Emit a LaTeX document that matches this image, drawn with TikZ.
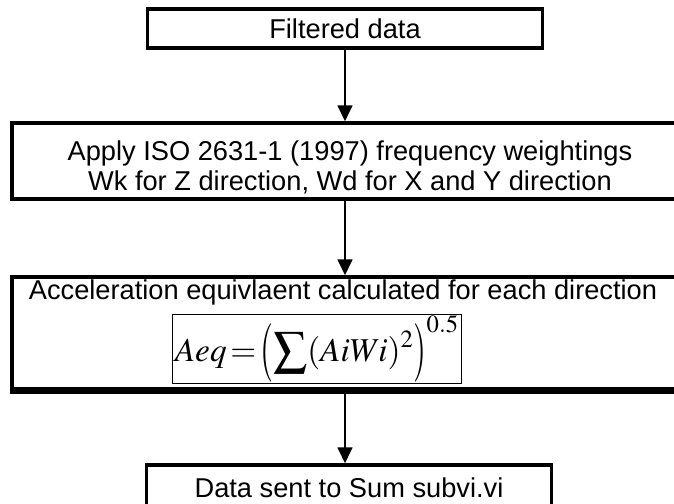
\documentclass[tikz,border=0pt]{standalone}
\usepackage{mathptmx}
\usepackage[no-math]{fontspec}
\setmainfont{Liberation Sans}
\usetikzlibrary{arrows.meta,positioning}

% stretched Times bracket for the Aeq formula
\newcommand{\tallparen}[1]{\vcenter{\hbox{\scalebox{1}[1.75]{$#1$}}}}

\begin{document}
\begin{tikzpicture}[
        x=0.02cm, y=-0.02cm,
        >={Triangle[width=0.3cm,length=0.32cm]},
        stepbox/.style={draw, line width=2pt, inner sep=0pt, align=center,
                        font=\fontsize{15.5}{17}\selectfont},
        steptext/.style={align=center, inner sep=0pt,
                        font=\fontsize{15.5}{17}\selectfont},
        formbox/.style={draw, line width=0.6pt, inner sep=1pt,
                        font=\fontsize{19}{21}\selectfont},
        flow/.style={->, line width=1pt}
    ]

    \useasboundingbox (0,0) rectangle (674,504);
    \clip (0,0) rectangle (674,504);

    % processing steps, top to bottom
    \node[stepbox, minimum width=7.9cm, minimum height=0.78cm] (filtered) at (345,28.5) {Filtered data};

    \node[stepbox, minimum width=13.4cm, minimum height=1.52cm] (weighting) at (347,161) {};
    \node[steptext] (weightingtext) at (350,167)
        {Apply ISO 2631-1 (1997) frequency weightings\\Wk for Z direction, Wd for X and Y direction};

    \node[stepbox, minimum width=13.4cm, minimum height=2.24cm] (accel) at (347,333) {};
    \draw[line width=3.5pt] (accel.south west) -- (accel.south east);
    \node[steptext] (acceltext) at (343,292)
        {Acceleration equivlaent calculated for each direction};
    \node[formbox, minimum width=5.8cm, minimum height=1.28cm] (formula) at (317,349)
        {$\displaystyle Aeq\,{=}\,\mathopen{\tallparen{(}}\sum(AiWi)^2\mathclose{\tallparen{)}}^{0.5}$};

    \node[stepbox, minimum width=8.1cm, minimum height=0.92cm] (sumvi) at (349,488) {Data sent to Sum subvi.vi};

    % connectors
    \draw[flow] (filtered.south) -- (filtered |- weighting.north);
    \draw[flow] (weighting.south -| filtered) -- (accel.north -| filtered);
    \draw[flow] (accel.south -| filtered) -- (sumvi.north -| filtered);

\end{tikzpicture}
\end{document}
